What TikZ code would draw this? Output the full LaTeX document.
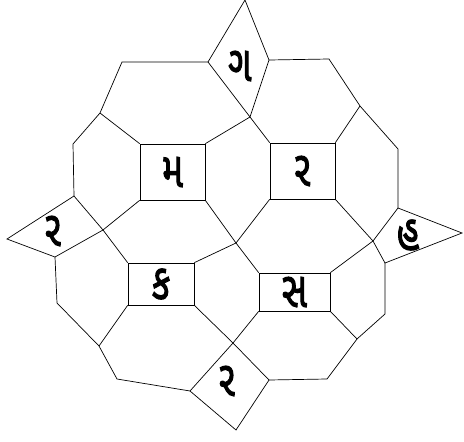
\documentclass[tikz,border=0pt]{standalone}
\usepackage{fontspec}
\usepackage{tikz}
\newfontfamily\gujfont[Script=Gujarati, FakeBold=2, FakeStretch=0.7]{Noto Sans Gujarati UI}

\begin{document}
\begin{tikzpicture}[x=1pt, y=-1pt, line width=0.7pt,
  letter/.style={font=\gujfont\fontsize{50}{52}\selectfont, inner sep=0pt},
  cell/.style={draw, letter}]
  \useasboundingbox (0,0) rectangle (464,442);

  % the four squares
  \node[cell, minimum width=65pt, minimum height=56pt] (m)  at (172.5,172) {મ};
  \node[cell, minimum width=65pt, minimum height=56pt] (r)  at (302.5,171) {ર};
  \node[cell, minimum width=66pt, minimum height=42pt] (k)  at (161,284)   {ક};
  \node[cell, minimum width=71pt, minimum height=38pt] (s)  at (294.5,292) {સ};

  % diamond corners
  \coordinate (gt) at (245,0);   \coordinate (gl) at (208,62);
  \coordinate (gb) at (250,117); \coordinate (gr) at (269,60);
  \coordinate (lt) at (74,196);  \coordinate (ll) at (7,239);
  \coordinate (lb) at (55,257);  \coordinate (lr) at (103,230);
  \coordinate (bt) at (233,343); \coordinate (bl) at (190,391);
  \coordinate (bb) at (236,430); \coordinate (br) at (269,380);
  \coordinate (rt) at (398,208); \coordinate (rl) at (373,241);
  \coordinate (rb) at (385,263); \coordinate (rr) at (462,233);

  % ring and middle
  \coordinate (a1) at (122,62);  \coordinate (a2) at (100,113);
  \coordinate (a3) at (73,144);  \coordinate (a5) at (57,303);
  \coordinate (a6) at (99,346);  \coordinate (a7) at (117,379);
  \coordinate (b1) at (327,379); \coordinate (b2) at (357,339);
  \coordinate (b3) at (385,314); \coordinate (c1) at (398,149);
  \coordinate (c2) at (360,106); \coordinate (c3) at (329,59);
  \coordinate (x)  at (236,243);

  % diamonds
  \draw (gt) -- (gr) -- (gb) -- (gl) -- cycle;
  \draw (lt) -- (ll) -- (lb) -- (lr) -- cycle;
  \draw (bt) -- (br) -- (bb) -- (bl) -- cycle;
  \draw (rt) -- (rr) -- (rb) -- (rl) -- cycle;
  \node[letter] (g)  at (240,66)  {ગ};
  \node[letter] (r2) at (53,231)  {ર};
  \node[letter] (r3) at (227,381) {ર};
  \node[letter] (h)  at (408,235) {હ};

  % outer ring
  \draw (gl) -- (a1) -- (a2) -- (a3) -- (lt);
  \draw (lb) -- (a5) -- (a6) -- (a7) -- (bl);
  \draw (br) -- (b1) -- (b2) -- (b3) -- (rb);
  \draw (rt) -- (c1) -- (c2) -- (c3) -- (gr);

  % spokes to the squares
  \draw (a2) -- (m.north west);
  \draw (gb) -- (m.north east);
  \draw (gb) -- (r.north west);
  \draw (c2) -- (r.north east);
  \draw (lr) -- (m.south west);
  \draw (lr) -- (k.north west);
  \draw (a6) -- (k.south west);
  \draw (bt) -- (k.south east);
  \draw (bt) -- (s.south west);
  \draw (b2) -- (s.south east);
  \draw (rl) -- (s.north east);
  \draw (rl) -- (r.south east);
  \draw (x) -- (m.south east);
  \draw (x) -- (r.south west);
  \draw (x) -- (k.north east);
  \draw (x) -- (s.north west);
\end{tikzpicture}
\end{document}
